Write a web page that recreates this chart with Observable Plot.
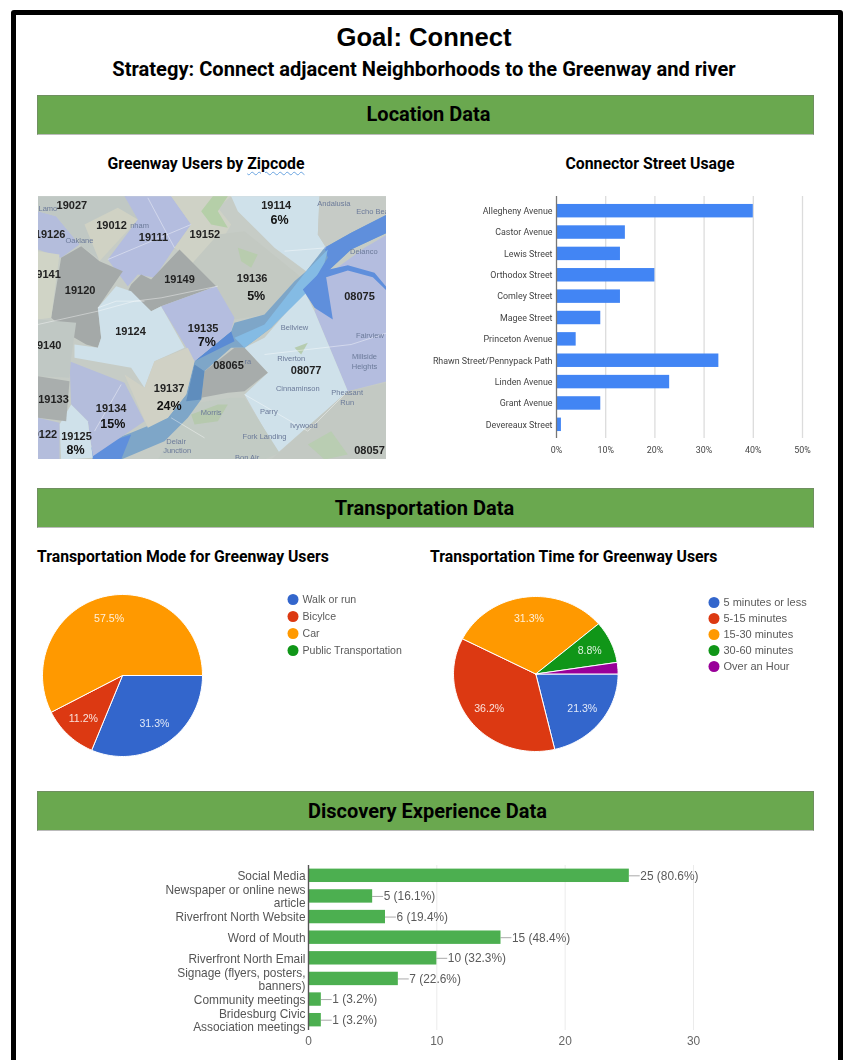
<!DOCTYPE html>
<html><head><meta charset="utf-8">
<style>
html,body{margin:0;padding:0;background:#fff;overflow:hidden;width:847px;height:1060px}
#page{position:relative;width:847px;height:1060px;overflow:hidden;background:#fff}
#frame{position:absolute;left:11px;top:10px;width:822px;height:1100px;border:5px solid #000;border-radius:3px}
.t{position:absolute;white-space:nowrap;color:#000;font-family:Roboto,sans-serif;font-weight:700}
.c{transform:translateX(-50%)}
.bar{position:absolute;left:37px;width:775px;height:38px;background:#6aa84f;border:1px solid #6f8f60;border-bottom-color:#bbb;text-align:center;font:700 20px/38px Roboto,sans-serif;color:#000;box-sizing:content-box}
.p{position:absolute}
svg{display:block}
</style>
<script src="https://cdn.jsdelivr.net/npm/d3@7"></script>
<script src="https://cdn.jsdelivr.net/npm/@observablehq/plot@0.6"></script>
</head><body><div id="page"><div id="frame"></div>
<div class="t c" style="left:424px;top:21px;font:700 25.6px/32px 'Liberation Sans',sans-serif">Goal: Connect</div>
<div class="t c" style="left:424px;top:56px;font-size:20.1px;line-height:26px">Strategy: Connect adjacent Neighborhoods to the Greenway and river</div>
<div class="bar" style="top:95px;line-height:37px"><span style="position:relative;left:3px">Location Data</span></div>
<div class="t c" style="left:206px;top:155px;font-size:15.8px;line-height:18px">Greenway Users by <span style="text-decoration:underline wavy #6aa4e0 1px;text-underline-offset:2px">Zipcode</span></div>
<div class="t c" style="left:650px;top:155px;font-size:15.8px;line-height:18px">Connector Street Usage</div>
<div class="bar" style="top:488px"><span style="position:relative;left:-1px">Transportation Data</span></div>
<div class="t" style="left:37px;top:548px;font-size:15.75px;line-height:18px">Transportation Mode for Greenway Users</div>
<div class="t" style="left:430px;top:548px;font-size:15.75px;line-height:18px">Transportation Time for Greenway Users</div>
<div class="bar" style="top:791px"><span style="position:relative;left:2px">Discovery Experience Data</span></div>
</div>
<script>
// ---------- data ----------
const streets = ["Allegheny Avenue","Castor Avenue","Lewis Street","Orthodox Street","Comley Street","Magee Street","Princeton Avenue","Rhawn Street/Pennypack Path","Linden Avenue","Grant Avenue","Devereaux Street"];
const streetUsage = [40,14,13,20,13,9,4,33,23,9,1];
const streetTicks = [0,10,20,30,40,50];

const pieColors = ["#3366cc","#dc3912","#ff9900","#109618","#990099"];
const modeCats = ["Walk or run","Bicylce","Car","Public Transportation"];
const modeVals = [31.3,11.2,57.5,0];
const timeCats = ["5 minutes or less","5-15 minutes","15-30 minutes","30-60 minutes","Over an Hour"];
const timeVals = [21.3,36.2,31.3,8.8,2.4];

const sources = ["Social Media","Newspaper or online news\narticle","Riverfront North Website","Word of Mouth","Riverfront North Email","Signage (flyers, posters,\nbanners)","Community meetings","Bridesburg Civic\nAssociation meetings"];
const sourceCounts = [25,5,6,15,10,7,1,1];
const sourcePct = ["80.6","16.1","19.4","48.4","32.3","22.6","3.2","3.2"];
const sourceTicks = [0,10,20,30];

// map regions: [fill, x,y, x,y, ...] in map units
const mapRegions = [
 ["#c6ccc6",20,15,1068,15,1068,805,20,805],
 ["#b4bddc",20,60,75,75,145,160,90,200,20,175],
 ["#c0c8c4",20,15,285,15,320,80,205,205,145,160,75,75,20,60],
 ["#d0d2c4",160,100,260,50,320,85,205,210],
 ["#b4bddf",280,15,420,15,480,100,430,170,370,260,320,250,290,285,230,205,320,85],
 ["#cfd2c6",420,15,600,15,560,50,600,100,560,170,500,230,430,170,480,100],
 ["#c3c9c2",480,220,560,130,640,120,800,250,825,280,700,370,610,385,555,285],
 ["#b5cfa8",510,60,545,15,590,15,560,60,590,110,540,100],
 ["#b8ccae",620,170,680,190,660,230,630,210],
 ["#cfe1ea",600,15,865,15,860,130,885,170,825,240,730,170,620,60],
 ["#c6cbc6",865,15,1068,15,1068,70,885,170,860,130],
 ["#b4bddf",890,250,1000,170,1068,130,1068,570,950,600,850,360],
 ["#cfe1ea",820,300,850,360,950,600,740,785,640,610,710,545,640,470,700,440],
 ["#c3c9c3",1068,575,1068,805,720,805,950,600],
 ["#b9cdb2",830,760,900,720,950,790,880,805],
 ["#c2cbc4",465,640,600,620,640,620,745,785,700,805,380,805,430,720],
 ["#b6c9ae",480,670,560,640,590,640,560,690,490,700],
 ["#b6ccb0",790,470,830,455,810,490],
 ["#7ea6c8",1068,70,960,125,880,170,825,240,790,270,700,370,610,395,600,420,490,510,465,610,410,680,300,725,180,770,185,805,270,805,400,750,470,680,510,625,520,540,600,470,640,470,720,410,830,290,890,240,960,175,1068,125],
 ["#5f8fdc",1068,70,960,125,880,170,890,200,830,290,890,240,960,175,1068,125],
 ["#5a8bd4",490,510,600,420,610,450,510,500],
 ["#5f8fdc",185,805,180,770,300,730,270,805],
 ["#84bbe4",825,240,890,175,880,215,830,300,720,410,640,470,610,440,700,400],
 ["#5f8fdc",815,295,870,240,950,222,1030,245,1068,290,1068,300,1025,258,950,238,885,258,905,385,850,350],
 ["#a7acab",520,540,610,470,640,470,710,545,640,600,590,605,510,620],
 ["#5f8dbd",490,520,520,540,510,625,465,630],
 ["#a4a9a8",300,280,330,250,360,265,445,175,555,285,390,345,360,360,290,300],
 ["#a4a9a8",90,200,150,165,205,210,275,240,200,350,210,440,200,470,165,460,130,440,60,380],
 ["#cfe1ea",200,350,255,285,300,300,360,360,390,345,460,470,370,510,340,590,300,530,130,500,130,460,200,470,210,440],
 ["#b4bddf",390,345,555,285,610,380,600,420,490,510,460,460],
 ["#d0d1c5",370,510,470,470,490,510,465,610,410,680,350,710,280,550,340,590],
 ["#b4bddc",115,510,280,575,340,690,185,795,170,690,120,640],
 ["#cfe1ea",120,640,170,690,185,800,90,805,85,700],
 ["#d0d4c6",20,180,85,190,60,380,20,385],
 ["#c0c8c4",20,385,135,395,120,500,115,560,20,555],
 ["#a9aead",20,555,115,570,105,690,20,680],
 ["#b4bddc",20,680,85,695,85,805,20,805]
];
const mapRoads = [
 [0,20,400,200,360],[0,200,360,310,330],[0,310,330,390,320],[0,390,320,560,285],
 [1,200,350,255,330],[1,255,330,340,330],[2,700,490,960,460],[2,960,460,1068,425],
 [3,640,610,830,720],[3,830,720,950,600],[4,760,180,885,170],[5,420,680,520,740],
 [6,230,205,480,100],[6,350,20,430,170],[7,270,580,190,720]
];
const zipLabels = [["19027",122,42],["19114",735,42],["19012",241,104],["19126",57,130],["19111",367,138],["19152",521,130],["19141",43,250],["19149",445,266],["19136",663,262],["19120",147,298],["08075",985,317],["19124",298,420],["19135",516,411],["19140",45,463],["08065",592,522],["08077",825,537],["19137",414,592],["19133",67,625],["19134",240,652],["19122",32,731],["19125",136,736],["08057",1015,777]];
const pctLabels = [["6%",745,85],["5%",675,313],["7%",527,452],["24%",414,643],["15%",245,698],["8%",133,775]];
const placeLabels = [["Andalusia",908,38],["Echo Bea",1024,60],["Delanco",998,182],["Bellview",790,408],["Fairview",1016,433],["Riverton",780,503],["Millside",1000,497],["Heights",1000,526],["Cinnaminson",800,592],["Pheasant",948,605],["Run",948,633],["Morris",540,664],["Parry",713,662],["Ivywood",818,704],["Fork Landing",700,736],["Delair",435,750],["Junction",438,778],["Oaklane",145,148],["Lamo",50,52],["nham",325,103],["Bon Air",648,798],["ra",650,512]];

// ---------- helpers ----------
const page = document.getElementById("page");
function place(svg, x, y, blur){
  svg.classList.add("p");
  svg.style.left = x+"px"; svg.style.top = y+"px";
  svg.style.background = "transparent"; svg.style.overflow = "visible";
  svg.style.maxWidth = "none";
  if (blur) svg.style.filter = `blur(${blur}px)`;
  page.appendChild(svg);
}
function wedges(cats, vals){
  const pts = []; let acc = 0;
  vals.forEach((v,i)=>{
    if (!v) return;
    const a0 = acc/100*2*Math.PI, a1 = (acc+v)/100*2*Math.PI;
    const n = Math.max(2, Math.ceil(v*2));
    pts.push({k:cats[i],x:0,y:0});
    for(let j=0;j<=n;j++){const a=a0+(a1-a0)*j/n; pts.push({k:cats[i],x:Math.cos(a),y:Math.sin(a)});}
    pts.push({k:cats[i],x:0,y:0});
    acc += v;
  });
  return pts;
}
function sliceLabels(vals, minPct){
  let acc = 0; const out = [];
  vals.forEach(v=>{
    const m=(acc+v/2)/100*2*Math.PI; acc+=v;
    if (v>=minPct) out.push({t:v.toFixed(1)+"%",x:0.72*Math.cos(m),y:0.72*Math.sin(m)});
  });
  return out;
}
function pie(cats, vals, colors, cx, cy, rx, ry){
  const m=2;
  const svg = Plot.plot({
    width:2*rx+2*m, height:2*ry+2*m, margin:m,
    style:{background:"transparent",fontFamily:"'Liberation Sans',sans-serif"},
    x:{domain:[-1,1],axis:null}, y:{domain:[-1,1],axis:null,reverse:true},
    color:{domain:cats,range:colors},
    marks:[
      Plot.line(wedges(cats,vals),{x:"x",y:"y",z:"k",fill:"k",stroke:"#fff",strokeWidth:1,strokeLinejoin:"round"}),
      Plot.text(sliceLabels(vals,5),{x:"x",y:"y",text:"t",fill:"#fff",fillOpacity:0.85,fontSize:10.6})
    ]});
  place(svg, cx-rx-m, cy-ry-m, 0.45);
}
function legend(cats, colors, x, y, step, fs){
  const svg = Plot.plot({
    width:140, height:step*cats.length, marginTop:step/2, marginBottom:step/2, marginLeft:0, marginRight:0,
    style:{background:"transparent",fontFamily:"'Liberation Sans',sans-serif"},
    x:{axis:null}, y:{domain:cats,type:"point",padding:0,axis:null},
    color:{domain:cats,range:colors},
    marks:[
      Plot.dot(cats,{y:d=>d,frameAnchor:"left",dx:5.5,r:5.5,fill:d=>d}),
      Plot.text(cats,{y:d=>d,text:d=>d,frameAnchor:"left",textAnchor:"start",dx:15,fill:"#5a5a5a",fontSize:fs})
    ]});
  place(svg, x-5.5, y-step/2, 0.35);
}

// ---------- map ----------
const mapPts = mapRegions.flatMap((r,i)=>{
  const o=[]; for(let j=1;j<r.length;j+=2) o.push({id:i,fill:r[0],x:r[j],y:r[j+1]});
  o.push({id:i,fill:r[0],x:r[1],y:r[2]}); return o;
});
const lab = a=>a.map(d=>({t:d[0],x:d[1],y:d[2]}));
place(Plot.plot({
  width:348,height:263,margin:0,
  style:{background:"transparent",fontFamily:"'Liberation Sans',sans-serif"},
  x:{domain:[22,1066],axis:null},y:{domain:[16,805],axis:null,reverse:true},
  marks:[
    Plot.line(mapPts,{x:"x",y:"y",z:"id",fill:"fill",stroke:null,clip:true}),
    Plot.link(mapRoads,{x1:d=>d[1],y1:d=>d[2],x2:d=>d[3],y2:d=>d[4],stroke:"#fff",strokeOpacity:0.4,strokeWidth:1,clip:true}),
    Plot.text(lab(placeLabels),{x:"x",y:"y",text:"t",fill:"#6b7a99",fontSize:7.5,clip:true}),
    Plot.text(lab(zipLabels),{x:"x",y:"y",text:"t",fill:"#222",fontWeight:"bold",fontSize:11,clip:true}),
    Plot.text(lab(pctLabels),{x:"x",y:"y",text:"t",fill:"#111",fontWeight:"bold",fontSize:12.5,clip:true})
  ]}), 38, 196, 0.75);

// ---------- connector streets ----------
const streetRows = streets.map((s,i)=>({s,v:streetUsage[i]}));
place(Plot.plot({
  width:400,height:270,marginLeft:136,marginRight:18,marginTop:6,marginBottom:22,
  style:{background:"transparent",fontFamily:"Roboto,sans-serif",fontSize:"8.9px"},
  x:{domain:[0,50],axis:null},
  y:{domain:streets,axis:null,round:false,paddingInner:0.37,paddingOuter:0.185,insetTop:4,insetBottom:3},
  marks:[
    Plot.ruleX(streetTicks.slice(1),{stroke:"#dcdcdc",strokeWidth:1.3}),
    Plot.barX(streetRows,{x:"v",y:"s",fill:"#4285f4"}),
    Plot.ruleX([0],{stroke:"#777",strokeWidth:1.3}),
    Plot.axisY({anchor:"left",tickSize:0,tickPadding:4,label:null,color:"#444"}),
    Plot.axisX(streetTicks,{anchor:"bottom",tickSize:0,tickPadding:8,tickFormat:d=>d+"%",label:null,color:"#444"})
  ]}), 420, 190, 0.45);

// ---------- pies ----------
pie(modeCats,modeVals,pieColors,121.5,675,80,81);
legend(modeCats,pieColors,292.5,598.5,17.4,10.6);
pie(timeCats,timeVals,pieColors,535.6,673.5,82.3,77.5);
legend(timeCats,pieColors,713,601.3,16.35,11);

// ---------- discovery ----------
const sourceRows = sources.map((s,i)=>({s,v:sourceCounts[i],l:`${sourceCounts[i]} (${sourcePct[i]}%)`}));
place(Plot.plot({
  width:570,height:205,marginLeft:158,marginRight:27,marginTop:10,marginBottom:30,
  style:{background:"transparent",fontFamily:"'Liberation Sans',sans-serif",fontSize:"11.9px"},
  x:{domain:[0,30],axis:null},
  y:{domain:sources,axis:null,round:false,paddingInner:0.35,paddingOuter:0.175},
  marks:[
    Plot.ruleX(sourceTicks.slice(1),{stroke:"#ebebeb",strokeWidth:1}),
    Plot.ruleY(sourceRows,{y:"s",x1:"v",x2:d=>d.v+0.85,stroke:"#aaa",strokeWidth:1}),
    Plot.barX(sourceRows,{x:"v",y:"s",fill:"#4caf50"}),
    Plot.text(sourceRows,{x:"v",y:"s",text:"l",textAnchor:"start",dx:11,fill:"#5a5a5a"}),
    Plot.ruleX([0],{stroke:"#555",strokeWidth:1.4}),
    Plot.axisY({anchor:"left",tickSize:0,tickPadding:3,label:null,color:"#555",lineHeight:1.1}),
    Plot.axisX(sourceTicks,{anchor:"bottom",tickSize:0,tickPadding:6,label:null,color:"#666"})
  ]}), 150, 855, 0.35);
</script></body></html>
